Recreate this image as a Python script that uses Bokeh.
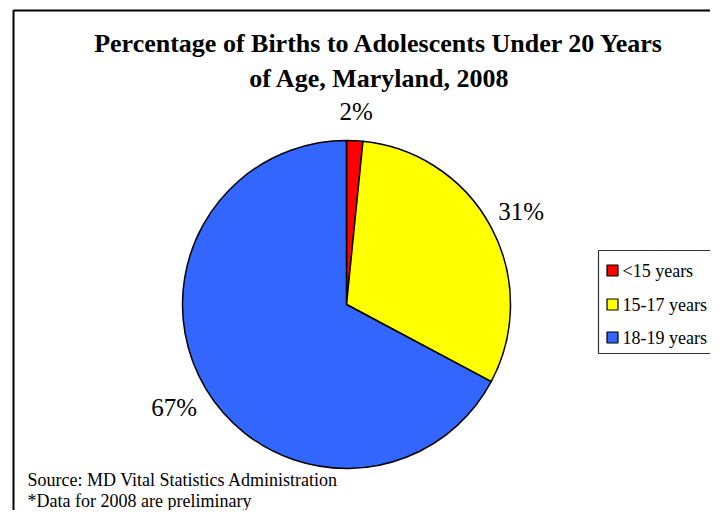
import numpy as np
from bokeh.plotting import figure
from bokeh.models import Range1d, ColumnDataSource
from bokeh.core.properties import value
from bokeh.embed import file_html
from bokeh.resources import INLINE

# ---- data ----
categories = ["<15 years", "15-17 years", "18-19 years"]
percents = [1.6, 31.2, 67.2]
colors = ["#FF0000", "#FFFF00", "#3366FF"]
title_lines = ["Percentage of Births to Adolescents Under 20 Years", "of Age, Maryland, 2008"]
notes = ["Source: MD Vital Statistics Administration", "*Data for 2008 are preliminary"]

W, H = 710, 510
p = figure(width=W, height=H, output_backend="svg", toolbar_location=None,
           x_range=Range1d(0, W), y_range=Range1d(0, H), min_border=0)
p.axis.visible = False
p.grid.visible = False
p.outline_line_color = None
p.background_fill_color = "white"
p.border_fill_color = "white"

SERIF = value("Liberation Serif")

def Y(yref):  # screen row -> data y
    return H - yref

# outer border (continues beyond the visible area)
p.line(x=[13, 13, 800], y=[Y(600), Y(10), Y(10)], line_color="black", line_width=2)

# title
for i, t in enumerate(title_lines):
    p.text(x=[379], y=[Y(43 + 35 * i)], text=[t], text_font=SERIF,
           text_font_style="bold", text_font_size="26px", text_align="center",
           text_baseline="middle", text_color="black")

# pie
cx, cy, r = 346, Y(304), 164
fr = np.array(percents) / sum(percents)
cum = np.concatenate([[0], np.cumsum(fr)])
start = np.pi / 2 - 2 * np.pi * cum[:-1]
end = np.pi / 2 - 2 * np.pi * cum[1:]
src = ColumnDataSource(dict(start=start, end=end, color=colors))
p.wedge(x=cx, y=cy, radius=r, start_angle="start", end_angle="end", direction="clock",
        fill_color="color", line_color="black", line_width=1.5, source=src)

# percentage labels
mid = (start + end) / 2
lab_r = np.array([193, 198, 201])
lx = cx + lab_r * np.cos(mid)
ly = cy + lab_r * np.sin(mid)
labels = [f"{round(v)}%" for v in percents]
p.text(x=lx, y=ly, text=labels, text_font=SERIF, text_font_size="25px",
       text_align="center", text_baseline="middle", text_color="black")

# legend
p.line(x=[800, 598, 598, 800], y=[Y(250), Y(250), Y(353), Y(353)],
       line_color="#333333", line_width=1.2)
leg_y = [Y(270), Y(304), Y(337)]
p.rect(x=[612] * 3, y=leg_y, width=11, height=11, fill_color=colors,
       line_color="black", line_width=1.2)
p.text(x=[622] * 3, y=leg_y, text=categories, text_font=SERIF,
       text_font_size="18px", text_baseline="middle", text_color="black")

# notes
for i, t in enumerate(notes):
    p.text(x=[27], y=[Y(479 + 21 * i)], text=[t], text_font=SERIF,
           text_font_size="18px", text_baseline="middle", text_color="black")

open("out.html", "w").write(file_html(p, INLINE))
